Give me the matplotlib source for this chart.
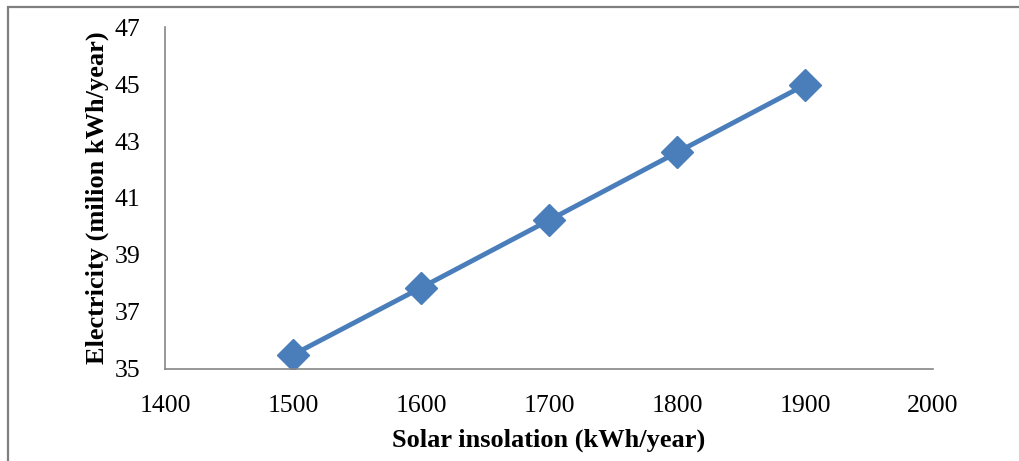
import matplotlib
matplotlib.use("Agg")
import matplotlib.pyplot as plt
from matplotlib.patches import Rectangle

# solar insolation vs generated electricity
insolation = [1500, 1600, 1700, 1800, 1900]
electricity = [35.5, 37.85, 40.22, 42.6, 44.97]

xticks = [1400, 1500, 1600, 1700, 1800, 1900, 2000]
yticks = [35, 37, 39, 41, 43, 45, 47]

plt.rcParams['font.family'] = ['Liberation Serif', 'DejaVu Serif']

fig = plt.figure(figsize=(10.2, 4.61), dpi=100)
ax = fig.add_axes([0.1618, 0.1996, 0.7529, 0.7418])

ax.plot(insolation, electricity, color='#4a7ebb', linewidth=3.5,
        marker='D', markersize=16, markerfacecolor='#4a7ebb',
        markeredgecolor='#4a7ebb', solid_capstyle='round')

ax.set_xlim(1400, 2000)
ax.set_ylim(35, 47)
ax.set_xticks(xticks)
ax.set_yticks(yticks)
ax.tick_params(axis='both', length=0, labelsize=18.5, colors='black')
ax.tick_params(axis='x', pad=19)
ax.tick_params(axis='y', pad=18)

for side in ('top', 'right'):
    ax.spines[side].set_visible(False)
for side in ('left', 'bottom'):
    ax.spines[side].set_color('#868686')
    ax.spines[side].set_linewidth(1.2)

ax.set_xlabel('Solar insolation (kWh/year)', fontsize=19, fontweight='bold', labelpad=8)
ax.set_ylabel('Electricity (milion kWh/year)', fontsize=19, fontweight='bold', labelpad=4)

# chart area frame, right and bottom edges run past the canvas
frame = Rectangle((8 / 1020, -0.1), 1.1, 1.1 - 7 / 461,
                  transform=fig.transFigure, fill=False,
                  edgecolor='#7f7f7f', linewidth=1.6)
fig.patches.append(frame)

fig.savefig('out.png', dpi=100)
